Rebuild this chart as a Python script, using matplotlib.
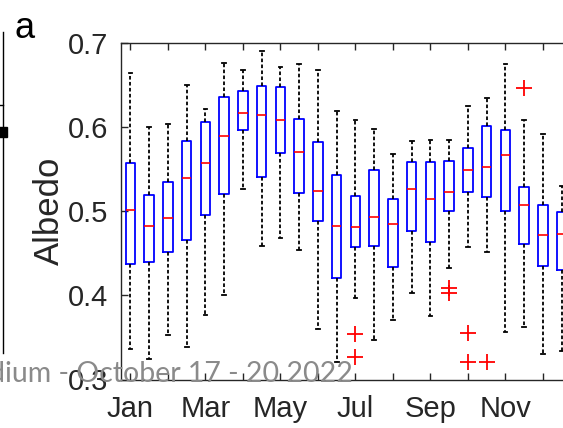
import numpy as np
import matplotlib
matplotlib.use("Agg")
from matplotlib import pyplot as plt
from matplotlib.lines import Line2D

plt.rc('font', family='Liberation Sans')

# Semi-monthly albedo statistics (two boxes per month)
whis_hi = [0.664, 0.600, 0.604, 0.650, 0.621, 0.676, 0.668, 0.690, 0.672, 0.675, 0.668, 0.619,
           0.608, 0.598, 0.568, 0.584, 0.585, 0.585, 0.625, 0.635, 0.675, 0.608, 0.592, 0.530]
q3 = [0.557, 0.519, 0.535, 0.584, 0.606, 0.636, 0.643, 0.649, 0.648, 0.610, 0.582, 0.543,
      0.518, 0.549, 0.515, 0.559, 0.558, 0.560, 0.575, 0.601, 0.597, 0.529, 0.507, 0.499]
med = [0.502, 0.483, 0.492, 0.539, 0.557, 0.589, 0.617, 0.615, 0.609, 0.570, 0.524, 0.482,
       0.481, 0.493, 0.485, 0.527, 0.515, 0.523, 0.549, 0.553, 0.567, 0.507, 0.472, 0.473]
q1 = [0.437, 0.440, 0.451, 0.466, 0.496, 0.521, 0.596, 0.541, 0.569, 0.522, 0.489, 0.421,
      0.457, 0.459, 0.434, 0.477, 0.463, 0.500, 0.523, 0.517, 0.500, 0.461, 0.435, 0.430]
whis_lo = [0.336, 0.324, 0.353, 0.339, 0.377, 0.401, 0.526, 0.459, 0.468, 0.454, 0.360, 0.321,
           0.397, 0.347, 0.371, 0.403, 0.376, 0.432, 0.457, 0.451, 0.357, 0.362, 0.330, 0.334]
outliers = {13: [0.354, 0.327], 18: [0.409, 0.403], 19: [0.355, 0.321],
            20: [0.321], 22: [0.646]}

months = ['Jan', 'Feb', 'Mar', 'Apr', 'May', 'Jun',
          'Jul', 'Aug', 'Sep', 'Oct', 'Nov', 'Dec']

stats = []
for i in range(len(med)):
    stats.append(dict(med=med[i], q1=q1[i], q3=q3[i], whislo=whis_lo[i],
                      whishi=whis_hi[i], fliers=outliers.get(i + 1, [])))

fig = plt.figure(figsize=(5.63, 4.28), dpi=100)
ax = fig.add_axes([121/563, 48.5/428, 450/563, 336.5/428])

ax.bxp(stats, positions=np.arange(1, 25), widths=0.5, capwidths=0.2,
       boxprops=dict(color=(0, 0, 1), linewidth=1.3),
       medianprops=dict(color=(1, 0, 0), linewidth=1.2),
       whiskerprops=dict(color='k', linewidth=1.3, linestyle=(0, (2.0, 1.3))),
       capprops=dict(color='k', linewidth=1.3),
       flierprops=dict(marker='+', markeredgecolor=(1, 0, 0), markersize=11,
                       markeredgewidth=1.3, linestyle='none'))

ax.set_xlim(0.5, 24.5)
ax.set_ylim(0.3, 0.7)
ax.set_xticks(np.arange(1, 25, 2))
ax.set_xticklabels([m if k % 2 == 0 else '' for k, m in enumerate(months)])
ax.set_yticks([0.3, 0.4, 0.5, 0.6, 0.7])
ax.set_yticklabels(['0.3', '0.4', '0.5', '0.6', '0.7'])
ax.tick_params(axis='both', direction='in', length=5, width=1, colors='#262626',
               labelsize=21, top=True, right=True)
ax.tick_params(axis='x', pad=11)
ax.tick_params(axis='y', pad=9)
for s in ax.spines.values():
    s.set_color('#262626')
    s.set_linewidth(1.0)

ax.set_ylabel('Albedo', fontsize=25, color='#262626', va='center')
ax.yaxis.set_label_coords(-0.16, 0.5)

fig.text(15/563, 1 - 38/428, 'a', fontsize=26, va='baseline', ha='left')

# edge of the neighbouring panel
fig.add_artist(Line2D([3/563, 3/563], [1 - 32/428, 1 - 353/428], color='k', lw=1.0))
fig.add_artist(Line2D([0, 3/563], [1 - 105/428, 1 - 105/428], color='k', lw=1.0))
fig.add_artist(Line2D([2/563], [1 - 132/428], marker='s', color='k', markersize=7))

fig.text(353/563, 1 - 382/428, 'dium - October 17 - 20 2022', fontsize=20.5,
         family='Lato', color='#8a8a8a', ha='right', va='baseline', zorder=10)

fig.savefig('out.png', dpi=100)
